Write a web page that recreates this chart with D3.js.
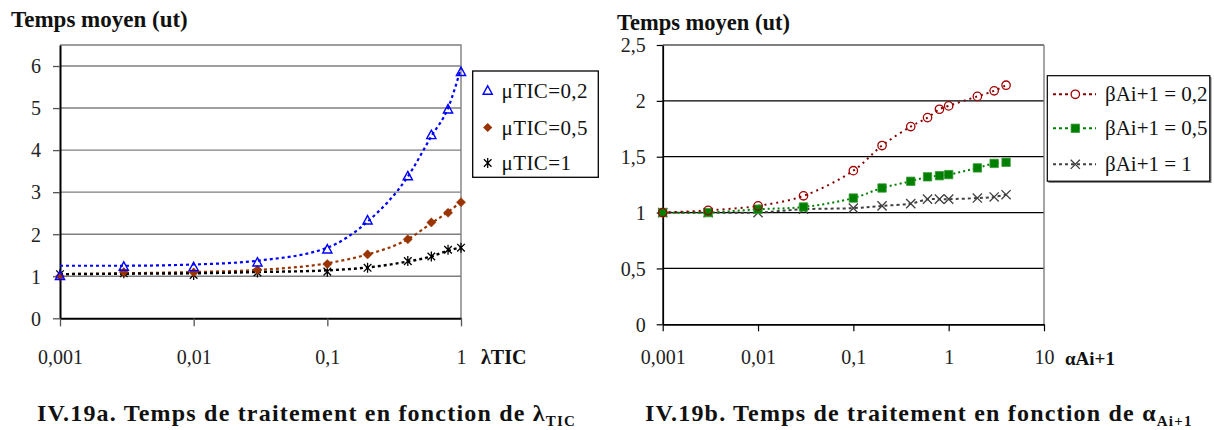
<!DOCTYPE html>
<html><head><meta charset="utf-8">
<script src="https://cdn.jsdelivr.net/npm/d3@7"></script>
<style>
html,body{margin:0;padding:0;background:#fff;}
svg{display:block;font-family:"Liberation Serif","Times New Roman",serif;}
</style></head><body>
<svg id="chart" width="1214" height="430"></svg>
<script>
// ---------- Chart a data ----------
const lambdaTIC = [0.001,0.003,0.01,0.03,0.1,0.2,0.4,0.6,0.8,1];
const mu02 = [1.0,1.22,1.21,1.32,1.63,2.32,3.37,4.35,4.96,5.85];
const mu05 = [1.0,1.1,1.09,1.15,1.29,1.52,1.88,2.28,2.51,2.76];
const mu1  = [1.05,1.07,1.03,1.09,1.11,1.2,1.36,1.47,1.63,1.68];
// trend lines (at the same abscissas)
const trendMu02 = [1.25,1.25,1.28,1.37,1.68,2.3,3.37,4.33,5.0,5.95];
const trendMu05 = [1.05,1.07,1.1,1.15,1.31,1.52,1.88,2.26,2.53,2.77];
const trendMu1  = [1.05,1.06,1.07,1.1,1.14,1.21,1.35,1.47,1.61,1.69];
const xTicksA = [0.001,0.01,0.1,1];
const xTickLabelsA = ["0,001","0,01","0,1","1"];
const yTicksA = [0,1,2,3,4,5,6];
const yTickLabelsA = ["0","1","2","3","4","5","6"];
const legendA = ["\u03BCTIC=0,2","\u03BCTIC=0,5","\u03BCTIC=1"];

// ---------- Chart b data ----------
const alphaAi = [0.001,0.003,0.01,0.03,0.1,0.2,0.4,0.6,0.8,1,2,3,4];
const beta02 = [1.0,1.02,1.06,1.15,1.375,1.6,1.77,1.85,1.925,1.955,2.04,2.09,2.14];
const beta05 = [1.0,1.0,1.03,1.05,1.13,1.22,1.28,1.32,1.33,1.34,1.40,1.44,1.45];
const beta1  = [1.0,1.0,1.0,1.03,1.04,1.06,1.08,1.12,1.12,1.12,1.13,1.14,1.16];
const xTicksB = [0.001,0.01,0.1,1,10];
const xTickLabelsB = ["0,001","0,01","0,1","1","10"];
const yTicksB = [0,0.5,1,1.5,2,2.5];
const yTickLabelsB = ["0","0,5","1","1,5","2","2,5"];
const legendB = ["\u03B2Ai+1 = 0,2","\u03B2Ai+1 = 0,5","\u03B2Ai+1 = 1"];

const svg = d3.select("#chart");

// marker paths
const shapes = {
  tri: "M0,-5.2L4.6,3.2L-4.6,3.2Z",
  dia: "M0,-4.6L4.6,0L0,4.6L-4.6,0Z",
  ast: "M-3.8,-3.8L3.8,3.8M-3.8,3.8L3.8,-3.8M0,-5L0,5",
  sq: "M-4.2,-4.2H4.2V4.2H-4.2Z",
  xx: "M-4.6,-4.6L4.6,4.6M-4.6,4.6L4.6,-4.6"
};
function marker(g, type, x, y, st){
  const p = g.append("path").attr("d", shapes[type]).attr("transform", `translate(${x},${y})`);
  Object.entries(st).forEach(([k,v])=>p.attr(k,v));
  return p;
}
function circ(g,x,y,st){
  const c = g.append("circle").attr("cx",x).attr("cy",y).attr("r",4.2);
  Object.entries(st).forEach(([k,v])=>c.attr(k,v));
}

// ================= CHART A =================
const gA = svg.append("g");
const xA = d3.scaleLog().domain([0.001,1]).range([60,461]);
const yA = d3.scaleLinear().domain([0,6.5]).range([318.3,45]);

gA.append("g").selectAll("line").data(yTicksA.filter(d=>d>0)).join("line")
  .attr("x1",60).attr("x2",461).attr("y1",d=>yA(d)).attr("y2",d=>yA(d))
  .attr("stroke","#7f7f7f").attr("stroke-width",1.4);
gA.append("path").attr("d",`M60,${yA(6.5)}H461V${yA(0)}`).attr("fill","none")
  .attr("stroke","#7f7f7f").attr("stroke-width",1.4);

const axLA = gA.append("g").attr("transform","translate(60,0)")
  .call(d3.axisLeft(yA).tickValues(yTicksA).tickFormat((d,i)=>yTickLabelsA[i]).tickSize(7).tickSizeOuter(0).tickPadding(12));
const axBA = gA.append("g").attr("transform",`translate(0,${yA(0)})`)
  .call(d3.axisBottom(xA).tickValues(xTicksA).tickFormat((d,i)=>xTickLabelsA[i]).tickSize(8).tickSizeOuter(0));
[axLA, axBA].forEach(ax=>{
  ax.select(".domain").attr("stroke","#000").attr("stroke-width",2);
  ax.selectAll(".tick line").attr("stroke","#555").attr("stroke-width",1.3);
  ax.selectAll("text").attr("font-family","Liberation Serif").attr("font-size",20).attr("fill","#222");
});
axBA.selectAll("text").attr("y",45.5).attr("dy",0);
axLA.selectAll("text").attr("dy","0.34em");

const lineA = d3.line().x(d=>xA(d[0])).y(d=>yA(d[1])).curve(d3.curveMonotoneX);
const trendsA = [
  {v:trendMu02, c:"#0000ff", dash:"3,3", w:2.2},
  {v:trendMu05, c:"#993300", dash:"3,3", w:2.2},
  {v:trendMu1,  c:"#000000", dash:"3,3", w:2.4}
];
trendsA.forEach(t=>{
  gA.append("path").datum(lambdaTIC.map((x,i)=>[x,t.v[i]])).attr("d",lineA)
    .attr("fill","none").attr("stroke",t.c).attr("stroke-width",t.w).attr("stroke-dasharray",t.dash);
});
lambdaTIC.forEach((x,i)=>marker(gA,"ast",xA(x),yA(mu1[i]),{stroke:"#000","stroke-width":1.3,fill:"none"}));
lambdaTIC.forEach((x,i)=>marker(gA,"dia",xA(x),yA(mu05[i]),{fill:"#993300",stroke:"#993300","stroke-width":0.5}));
lambdaTIC.forEach((x,i)=>marker(gA,"tri",xA(x),yA(mu02[i]),{stroke:"#0000ff","stroke-width":1.4,fill:"none"}));

gA.append("text").attr("x",11).attr("y",27).attr("font-size",23).attr("font-weight","bold")
  .attr("fill","#111").text("Temps moyen (ut)");
gA.append("text").attr("x",481).attr("y",364).attr("font-size",20).attr("font-weight","bold")
  .attr("fill","#111").text("\u03BBTIC");
const capA = gA.append("text").attr("x",37).attr("y",421).attr("font-size",24).attr("font-weight","bold")
  .attr("letter-spacing",1.2).attr("fill","#111");
capA.append("tspan").text("IV.19a. Temps de traitement en fonction de \u03BB");
capA.append("tspan").attr("font-size",15).attr("dy",5).text("TIC");

// legend A
const lgA = gA.append("g");
lgA.append("rect").attr("x",472.7).attr("y",71).attr("width",125.6).attr("height",106.3)
  .attr("fill","#fff").attr("stroke","#000").attr("stroke-width",1.3);
const lgAy = [91,127.5,163];
marker(lgA,"tri",487.7,lgAy[0],{stroke:"#0000ff","stroke-width":1.4,fill:"none"});
marker(lgA,"dia",487.7,lgAy[1],{fill:"#993300"});
marker(lgA,"ast",487.7,lgAy[2],{stroke:"#000","stroke-width":1.3,fill:"none"});
legendA.forEach((t,i)=>lgA.append("text").attr("x",501.5).attr("y",lgAy[i]).attr("dy","0.34em")
  .attr("font-size",21).attr("letter-spacing",0.4).attr("fill","#111").text(t));

// ================= CHART B =================
const gB = svg.append("g");
const xB = d3.scaleLog().domain([0.001,10]).range([662.7,1044]);
const yB = d3.scaleLinear().domain([0,2.5]).range([324.3,45]);

gB.append("g").selectAll("line").data(yTicksB.filter(d=>d>0 && d<2.5)).join("line")
  .attr("x1",662.7).attr("x2",1044).attr("y1",d=>yB(d)).attr("y2",d=>yB(d))
  .attr("stroke","#000").attr("stroke-width",1.2);
gB.append("line").attr("x1",662.7).attr("x2",1044).attr("y1",yB(2.5)).attr("y2",yB(2.5))
  .attr("stroke","#000").attr("stroke-width",1.2);
gB.append("line").attr("x1",1044).attr("x2",1044).attr("y1",yB(2.5)).attr("y2",yB(0))
  .attr("stroke","#7f7f7f").attr("stroke-width",1.4);

const axLB = gB.append("g").attr("transform","translate(662.7,0)")
  .call(d3.axisLeft(yB).tickValues(yTicksB).tickFormat((d,i)=>yTickLabelsB[i]).tickSize(6).tickSizeOuter(0).tickPadding(11));
const axBB = gB.append("g").attr("transform",`translate(0,${yB(0)})`)
  .call(d3.axisBottom(xB).tickValues(xTicksB).tickFormat((d,i)=>xTickLabelsB[i]).tickSize(7).tickSizeOuter(0));
[axLB, axBB].forEach(ax=>{
  ax.select(".domain").attr("stroke","#000").attr("stroke-width",1.8);
  ax.selectAll(".tick line").attr("stroke","#000").attr("stroke-width",1.2);
  ax.selectAll("text").attr("font-family","Liberation Serif").attr("font-size",20).attr("fill","#222");
});
axBB.selectAll("text").attr("y",40).attr("dy",0);
axLB.selectAll("text").attr("dy","0.34em");

const lineB = d3.line().x(d=>xB(d[0])).y(d=>yB(d[1])).curve(d3.curveCatmullRom.alpha(0.5));
const seriesB = [
  {v:beta1,  c:"#404040", dash:"3,3", w:2},
  {v:beta05, c:"#008000", dash:"2,3", w:2},
  {v:beta02, c:"#800000", dash:"2,4", w:2}
];
seriesB.forEach(s=>{
  gB.append("path").datum(alphaAi.map((x,i)=>[x,s.v[i]])).attr("d",lineB)
    .attr("fill","none").attr("stroke",s.c).attr("stroke-width",s.w).attr("stroke-dasharray",s.dash);
});
alphaAi.forEach((x,i)=>marker(gB,"xx",xB(x),yB(beta1[i]),{stroke:"#404040","stroke-width":1.3,fill:"none"}));
alphaAi.forEach((x,i)=>marker(gB,"sq",xB(x),yB(beta05[i]),{fill:"#008000",stroke:"#3a9a3a","stroke-width":0.8}));
alphaAi.forEach((x,i)=>circ(gB,xB(x),yB(beta02[i]),{stroke:"#a00000","stroke-width":1.3,fill:"none"}));

gB.append("text").attr("x",617).attr("y",29.5).attr("font-size",22.5).attr("font-weight","bold")
  .attr("fill","#111").text("Temps moyen (ut)");
gB.append("text").attr("x",1065).attr("y",365).attr("font-size",19).attr("font-weight","bold")
  .attr("fill","#111").text("\u03B1Ai+1");
const capB = gB.append("text").attr("x",645).attr("y",421).attr("font-size",24).attr("font-weight","bold")
  .attr("letter-spacing",1.2).attr("fill","#111");
capB.append("tspan").text("IV.19b. Temps de traitement en fonction de \u03B1");
capB.append("tspan").attr("font-size",15).attr("dy",5).text("Ai+1");

// legend B
const lgB = gB.append("g");
lgB.append("rect").attr("x",1048.5).attr("y",77).attr("width",163).attr("height",106)
  .attr("fill","#888");
lgB.append("rect").attr("x",1047.3).attr("y",75.7).attr("width",162.5).attr("height",105.5)
  .attr("fill","#fff").attr("stroke","#000").attr("stroke-width",1.2);
const lgBy = [94.3,128.3,164.3];
seriesB.slice().reverse().forEach((s,i)=>{
  lgB.append("line").attr("x1",1053).attr("x2",1096).attr("y1",lgBy[i]).attr("y2",lgBy[i])
    .attr("stroke",s.c).attr("stroke-width",s.w).attr("stroke-dasharray","3,3");
});
circ(lgB,1075.3,lgBy[0],{stroke:"#a00000","stroke-width":1.3,fill:"#fff"});
marker(lgB,"sq",1075.3,lgBy[1],{fill:"#008000",stroke:"#3a9a3a","stroke-width":0.8});
marker(lgB,"xx",1075.3,lgBy[2],{stroke:"#404040","stroke-width":1.3,fill:"none"});
legendB.forEach((t,i)=>lgB.append("text").attr("x",1105).attr("y",lgBy[i]).attr("dy","0.34em")
  .attr("font-size",21).attr("fill","#111").text(t));
</script>
</body></html>
